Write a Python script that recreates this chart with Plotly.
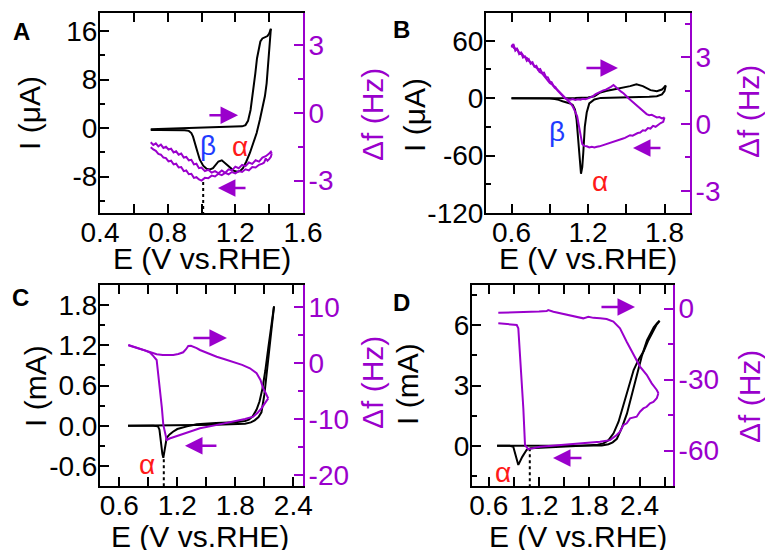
import plotly.graph_objects as go

W, H = 765, 550
BLACK = '#000000'
PURPLE = '#9a00cc'
RED = '#ff1a1a'
BLUE = '#1f3cff'
FONT = 'Liberation Sans, Arial, sans-serif'

# ---------------- Panel A (I in uA, df in Hz) ----------------
a_cv_fwd_E = [0.70, 0.75, 0.80, 0.85, 0.90, 0.95, 1.00, 1.05, 1.10, 1.15, 1.20, 1.24, 1.26, 1.275,
              1.29, 1.305, 1.318, 1.328, 1.338, 1.348, 1.36, 1.375, 1.39, 1.40, 1.41]
a_cv_fwd_I = [-0.2, -0.15, -0.1, -0.05, 0.0, 0.0, 0.05, 0.1, 0.1, 0.15, 0.2, 0.3, 0.5, 1.2,
              3.0, 6.0, 9.0, 11.5, 13.3, 14.3, 14.8, 15.0, 15.2, 15.6, 16.4]
a_cv_rev_E = [1.41, 1.405, 1.395, 1.385, 1.375, 1.363, 1.345, 1.326, 1.305, 1.286, 1.265, 1.245,
              1.227, 1.21, 1.19, 1.17, 1.15, 1.13, 1.12, 1.10, 1.085, 1.068, 1.05, 1.03, 1.01,
              0.99, 0.975, 0.96, 0.95, 0.94, 0.925, 0.90, 0.85, 0.80, 0.75, 0.70]
a_cv_rev_I = [16.4, 14.5, 11.0, 7.4, 5.3, 3.5, 1.4, -0.8, -2.6, -4.1, -5.5, -6.6,
              -7.1, -7.2, -7.0, -6.5, -6.0, -5.5, -5.3, -5.5, -6.1, -6.6, -6.8, -6.7, -6.2,
              -5.2, -3.8, -2.3, -1.4, -0.8, -0.45, -0.35, -0.3, -0.3, -0.3, -0.3]
a_df_fwd_E = [0.70, 0.715, 0.73, 0.745, 0.76, 0.775, 0.79, 0.805, 0.82, 0.835, 0.85, 0.865, 0.88,
              0.895, 0.91, 0.925, 0.94, 0.955, 0.97, 0.985, 1.00, 1.02, 1.04, 1.06, 1.08, 1.10,
              1.12, 1.14, 1.16, 1.18, 1.20, 1.22, 1.24, 1.26, 1.28, 1.30, 1.32, 1.34, 1.36, 1.38,
              1.40, 1.41, 1.415]
a_df_fwd = [-1.30, -1.42, -1.35, -1.48, -1.40, -1.55, -1.50, -1.62, -1.58, -1.75, -1.70, -1.85, -1.80,
            -1.98, -1.95, -2.10, -2.08, -2.28, -2.25, -2.45, -2.42, -2.58, -2.52, -2.65, -2.58, -2.68,
            -2.55, -2.66, -2.50, -2.55, -2.38, -2.45, -2.30, -2.36, -2.20, -2.26, -2.10, -2.16, -1.98,
            -1.92, -1.80, -1.72, -1.80]
a_df_rev_E = [1.415, 1.41, 1.40, 1.39, 1.38, 1.37, 1.36, 1.34, 1.32, 1.30, 1.28, 1.26, 1.24, 1.22,
              1.20, 1.18, 1.16, 1.14, 1.12, 1.10, 1.08, 1.06, 1.04, 1.02, 1.00, 0.985, 0.97, 0.955,
              0.94, 0.925, 0.91, 0.895, 0.88, 0.865, 0.85, 0.835, 0.82, 0.805, 0.79, 0.775, 0.76,
              0.745, 0.73, 0.715, 0.70]
a_df_rev = [-1.80, -1.95, -2.05, -2.12, -2.02, -2.20, -2.25, -2.30, -2.42, -2.40, -2.55, -2.50, -2.62,
            -2.58, -2.68, -2.62, -2.72, -2.66, -2.76, -2.70, -2.82, -2.78, -2.90, -2.88, -3.00, -2.95,
            -2.85, -2.88, -2.70, -2.72, -2.55, -2.58, -2.40, -2.42, -2.25, -2.28, -2.12, -2.15, -2.00,
            -1.98, -1.85, -1.82, -1.68, -1.62, -1.52]
a_dot_E = [1.01, 1.01]
a_dot_I = [-8.9, -14.0]

# ---------------- Panel B (I in uA, df in Hz) ----------------
b_cv_fwd_E = [0.60, 0.70, 0.80, 0.90, 1.00, 1.10, 1.20, 1.25, 1.29, 1.34, 1.40, 1.46, 1.53, 1.58,
              1.63, 1.69, 1.74, 1.78, 1.81]
b_cv_fwd_I = [0, 0, 0, 0, 0, 0.2, 0.8, 2.0, 5.5, 7.5, 9.0, 10.5, 12.6, 14.4,
              12.6, 8.4, 7.3, 9.0, 13.3]
b_cv_rev_E = [1.81, 1.80, 1.78, 1.74, 1.68, 1.60, 1.50, 1.40, 1.30, 1.25, 1.21, 1.19, 1.175, 1.163,
              1.155, 1.145, 1.135, 1.124, 1.11, 1.098, 1.08, 1.06, 1.04, 1.02, 1.00, 0.97, 0.94,
              0.90, 0.80, 0.70, 0.60]
b_cv_rev_I = [13.3, 7.3, 3.9, 2.0, 1.5, 1.3, 1.1, 0.8, 0.3, -1.4, -5.5, -15, -29.6, -57,
              -72, -79, -62, -43, -22, -12, -7, -5.5, -5.0, -4.5, -3.2, -1.8, -0.8,
              -0.3, 0, 0, 0]
b_df_fwd_E = [0.600, 0.615, 0.630, 0.645, 0.660, 0.675, 0.690, 0.705, 0.720, 0.735, 0.750, 0.765,
              0.780, 0.795, 0.810, 0.825, 0.840, 0.855, 0.870, 0.885, 0.900, 0.915, 0.930, 0.945,
              0.960, 0.975, 0.990, 1.005, 1.020, 1.040, 1.060, 1.080, 1.100, 1.120, 1.140, 1.160,
              1.180, 1.200, 1.220, 1.240, 1.260, 1.280, 1.300, 1.320, 1.340, 1.360, 1.380, 1.400,
              1.420, 1.440, 1.460, 1.480, 1.500, 1.520, 1.540, 1.560, 1.580, 1.600, 1.620, 1.640,
              1.660, 1.680, 1.700, 1.720, 1.740, 1.760, 1.780, 1.800]
b_df_fwd = [3.45, 3.60, 3.30, 3.38, 3.15, 3.22, 3.00, 3.05, 2.85, 2.92, 2.72, 2.78,
            2.58, 2.62, 2.45, 2.48, 2.30, 2.32, 2.12, 2.10, 1.92, 1.88, 1.72, 1.66,
            1.52, 1.42, 1.32, 1.22, 1.16, 1.12, 1.10, 1.13, 1.09, 1.12, 1.10, 1.14,
            1.12, 1.16, 1.20, 1.26, 1.35, 1.42, 1.48, 1.52, 1.55, 1.60, 1.68, 1.76,
            1.65, 1.58, 1.46, 1.38, 1.25, 1.15, 1.05, 0.95, 0.85, 0.78, 0.66, 0.55,
            0.45, 0.40, 0.42, 0.36, 0.30, 0.32, 0.26, 0.30]
b_df_rev_E = [1.800, 1.790, 1.770, 1.750, 1.730, 1.710, 1.690, 1.670, 1.650, 1.630, 1.610, 1.590,
              1.570, 1.550, 1.530, 1.510, 1.490, 1.470, 1.450, 1.430, 1.410, 1.390, 1.370, 1.350,
              1.330, 1.310, 1.290, 1.270, 1.250, 1.230, 1.210, 1.190, 1.170, 1.155, 1.145, 1.135,
              1.125, 1.115, 1.100, 1.080, 1.060, 1.040, 1.020, 1.000, 0.980, 0.960, 0.940, 0.920,
              0.900, 0.880, 0.860, 0.840, 0.820, 0.800, 0.780, 0.760, 0.740, 0.720, 0.700, 0.680,
              0.660, 0.640, 0.620, 0.600]
b_df_rev = [0.30, 0.10, 0.05, -0.02, -0.12, -0.08, -0.20, -0.18, -0.30, -0.28, -0.38, -0.40,
            -0.45, -0.52, -0.50, -0.58, -0.62, -0.66, -0.70, -0.72, -0.78, -0.80, -0.85, -0.88,
            -0.92, -0.95, -1.00, -1.02, -1.05, -1.02, -1.05, -1.00, -0.98, -0.90, -0.60, -0.25,
            0.10, 0.35, 0.55, 0.80, 0.95, 1.08, 1.20, 1.30, 1.42, 1.55, 1.62, 1.78,
            1.85, 2.00, 2.10, 2.28, 2.35, 2.52, 2.60, 2.75, 2.82, 2.98, 3.02, 3.18,
            3.22, 3.40, 3.42, 3.58]

# ---------------- Panel C (I in mA, df in Hz) ----------------
c_cv_fwd_E = [0.69, 0.8, 1.0, 1.2, 1.4, 1.6, 1.8, 1.9, 1.96, 2.0, 2.04, 2.07, 2.1, 2.13, 2.16, 2.19, 2.2]
c_cv_fwd_I = [0, 0, 0, 0.01, 0.01, 0.015, 0.02, 0.03, 0.05, 0.08, 0.13, 0.2, 0.46, 0.85, 1.25, 1.65, 1.78]
c_cv_rev_E = [2.2, 2.17, 2.14, 2.11, 2.08, 2.05, 2.02, 1.98, 1.94, 1.9, 1.8, 1.6, 1.4, 1.3, 1.25,
              1.2, 1.155, 1.12, 1.09, 1.075, 1.065, 1.055, 1.045, 1.035, 1.025, 1.015, 1.0, 0.95, 0.69]
c_cv_rev_I = [1.78, 1.5, 1.15, 0.82, 0.55, 0.36, 0.24, 0.14, 0.09, 0.07, 0.05, 0.04, 0.02, -0.01, -0.03,
              -0.05, -0.09, -0.13, -0.18, -0.3, -0.42, -0.48, -0.42, -0.3, -0.15, -0.06, -0.01, 0, 0]
c_df_fwd_E = [0.693, 0.75, 0.81, 0.87, 0.917, 0.986, 1.05, 1.10, 1.158, 1.21, 1.261, 1.29, 1.313,
              1.34, 1.365, 1.40, 1.434, 1.52, 1.607, 1.69, 1.778, 1.87, 1.951, 1.99, 2.02, 2.06,
              2.088, 2.115, 2.14]
c_df_fwd = [3.26, 2.95, 2.6, 2.3, 2.06, 1.59, 1.45, 1.4, 1.47, 1.65, 1.95, 2.5, 3.08,
            3.1, 2.96, 2.7, 2.36, 1.75, 1.16, 0.7, 0.27, -0.3, -0.92, -1.35, -1.81, -3.0,
            -4.5, -5.4, -6.3]
c_df_rev_E = [2.14, 2.10, 2.07, 2.03, 1.985, 1.90, 1.778, 1.60, 1.434, 1.30, 1.158, 1.12, 1.09,
              1.075, 1.055, 1.04, 1.02, 1.00, 0.986, 0.95, 0.917, 0.87, 0.81, 0.75, 0.693]
c_df_rev = [-6.3, -7.4, -8.08, -8.9, -9.58, -10.0, -10.5, -11.1, -11.66, -12.4, -13.2, -13.5, -13.76,
            -12.6, -11.07, -8.0, -5.1, -1.5, 0.57, 1.3, 1.9, 2.25, 2.6, 2.95, 3.2]
c_dot_E = [1.06, 1.06]
c_dot_I = [-0.5, -0.9]

# ---------------- Panel D (I in mA, df in Hz) ----------------
d_cv_fwd_E = [0.70, 0.9, 1.1, 1.3, 1.5, 1.7, 1.85, 1.95, 2.03, 2.08, 2.13, 2.19, 2.25, 2.31, 2.37,
              2.43, 2.49, 2.53, 2.57, 2.61, 2.64]
d_cv_fwd_I = [0, 0, 0, 0, 0, 0, 0, 0.02, 0.08, 0.17, 0.35, 0.9, 1.6, 2.6, 3.6,
              4.5, 5.26, 5.6, 5.9, 6.1, 6.22]
d_cv_rev_E = [2.64, 2.6, 2.55, 2.5, 2.45, 2.39, 2.33, 2.27, 2.21, 2.15, 2.09, 2.03, 1.97, 1.9, 1.7,
              1.5, 1.3, 1.1, 1.053, 1.0, 0.953, 0.92, 0.893, 0.85, 0.80, 0.70]
d_cv_rev_I = [6.22, 6.0, 5.6, 5.2, 4.7, 4.3, 3.77, 2.9, 1.95, 1.2, 0.62, 0.28, 0.12, 0.05, 0.0,
              -0.05, -0.08, -0.12, -0.2, -0.55, -0.95, -0.5, -0.05, 0, 0, 0]
d_df_fwd_E = [0.714, 0.80, 0.893, 1.00, 1.093, 1.20, 1.292, 1.31, 1.372, 1.45, 1.53, 1.63, 1.729,
              1.789, 1.85, 1.93, 2.008, 2.088, 2.167, 2.247, 2.327, 2.406, 2.486, 2.546, 2.606, 2.626]
d_df_fwd = [-1.73, -1.65, -1.73, -1.6, -1.56, -1.2, -1.0, -0.6, -1.3, -1.9, -2.7, -3.4, -4.1,
            -3.4, -3.9, -4.1, -4.4, -5.5, -8.3, -14.0, -19.6, -24.5, -28.0, -31.6, -34.4, -35.8]
d_df_rev_E = [2.626, 2.606, 2.566, 2.526, 2.486, 2.446, 2.406, 2.366, 2.287, 2.247, 2.207, 2.167,
              2.128, 2.048, 1.928, 1.69, 1.45, 1.212, 1.072, 1.033, 1.013, 0.973, 0.953, 0.934,
              0.814, 0.714]
d_df_rev = [-35.8, -37.9, -39.4, -40.0, -41.5, -42.2, -43.6, -45.7, -46.4, -48.5, -49.2, -52.0,
            -53.4, -55.6, -56.3, -57.0, -57.7, -58.4, -59.4, -57.7, -42.2, -21.0, -8.3, -6.9,
            -6.6, -6.2]
d_dot_E = [1.09, 1.09]
d_dot_I = [-0.12, -2.0]

# ---------------- Axes: ranges and ticks ----------------
A_x_range, A_y_range, A_y2_range = [0.4, 1.6], [-14, 19], [-4.44, 4.44]
B_x_range, B_y_range, B_y2_range = [0.4, 2.0], [-120, 89], [-4, 5]
C_x_range, C_y_range, C_y2_range = [0.4, 2.5], [-0.9, 2.1], [-22, 14]
D_x_range, D_y_range, D_y2_range = [0.4, 2.8], [-2, 8], [-75, 10]

A_x_ticks, A_x_labels = [0.4, 0.8, 1.2, 1.6], ['0.4', '0.8', '1.2', '1.6']
A_y_ticks, A_y_labels = [-8, 0, 8, 16], ['-8', '0', '8', '16']
A_y2_ticks, A_y2_labels = [-3, 0, 3], ['-3', '0', '3']
B_x_ticks, B_x_labels = [0.6, 1.2, 1.8], ['0.6', '1.2', '1.8']
B_y_ticks, B_y_labels = [-120, -60, 0, 60], ['-120', '-60', '0', '60']
B_y2_ticks, B_y2_labels = [-3, 0, 3], ['-3', '0', '3']
C_x_ticks, C_x_labels = [0.6, 1.2, 1.8, 2.4], ['0.6', '1.2', '1.8', '2.4']
C_y_ticks, C_y_labels = [-0.6, 0.0, 0.6, 1.2, 1.8], ['-0.6', '0.0', '0.6', '1.2', '1.8']
C_y2_ticks, C_y2_labels = [-20, -10, 0, 10], ['-20', '-10', '0', '10']
D_x_ticks, D_x_labels = [0.6, 1.2, 1.8, 2.4], ['0.6', '1.2', '1.8', '2.4']
D_y_ticks, D_y_labels = [0, 3, 6], ['0', '3', '6']
D_y2_ticks, D_y2_labels = [-60, -30, 0], ['-60', '-30', '0']

# minor tick steps (start, step)
A_minor = dict(x=(0.4, 0.2), y=(0, 4), y2=(0, 1.5))
B_minor = dict(x=(0.6, 0.3), y=(0, 30), y2=(0, 1.5))
C_minor = dict(x=(0.6, 0.3), y=(0, 0.3), y2=(0, 5))
D_minor = dict(x=(0.6, 0.3), y=(0, 1.5), y2=(0, 15))

panel_letters = ['A', 'B', 'C', 'D']
x_title = 'E (V vs.RHE)'
y_titles = ['I (\u03bcA)', 'I (\u03bcA)', 'I (mA)', 'I (mA)']
y2_title = '\u0394f (Hz)'

# ---------------- Layout geometry (pixels) ----------------
frames = {  # left, right, top, bottom
    'A': (100, 303, 13, 213),
    'B': (486, 690, 13, 213),
    'C': (100, 303, 285, 486),
    'D': (472, 673, 285, 486),
}

fig = go.Figure()
TICKFONT = 28
TITLEFONT = 30


def xd(l, r):
    return [l / W, r / W]


def yd(t, b):
    return [1 - b / H, 1 - t / H]


def add_cv(xa, ya, E, I):
    fig.add_trace(go.Scatter(x=E, y=I, xaxis=xa, yaxis=ya, mode='lines',
                             line=dict(color=BLACK, width=2), showlegend=False, hoverinfo='skip'))


def add_df(xa, ya, E, D):
    fig.add_trace(go.Scatter(x=E, y=D, xaxis=xa, yaxis=ya, mode='lines',
                             line=dict(color=PURPLE, width=2), showlegend=False, hoverinfo='skip'))


def add_dot(xa, ya, E, I):
    fig.add_trace(go.Scatter(x=E, y=I, xaxis=xa, yaxis=ya, mode='lines',
                             line=dict(color=BLACK, width=2, dash='dot'), showlegend=False,
                             hoverinfo='skip'))


# Panel A traces
add_df('x', 'y2', a_df_fwd_E, a_df_fwd)
add_df('x', 'y2', a_df_rev_E, a_df_rev)
add_cv('x', 'y', a_cv_fwd_E, a_cv_fwd_I)
add_cv('x', 'y', a_cv_rev_E, a_cv_rev_I)
add_dot('x', 'y', a_dot_E, a_dot_I)
# Panel B
add_df('x2', 'y4', b_df_fwd_E, b_df_fwd)
add_df('x2', 'y4', b_df_rev_E, b_df_rev)
add_cv('x2', 'y3', b_cv_fwd_E, b_cv_fwd_I)
add_cv('x2', 'y3', b_cv_rev_E, b_cv_rev_I)
# Panel C
add_df('x3', 'y6', c_df_fwd_E, c_df_fwd)
add_df('x3', 'y6', c_df_rev_E, c_df_rev)
add_cv('x3', 'y5', c_cv_fwd_E, c_cv_fwd_I)
add_cv('x3', 'y5', c_cv_rev_E, c_cv_rev_I)
add_dot('x3', 'y5', c_dot_E, c_dot_I)
# Panel D
add_df('x4', 'y8', d_df_fwd_E, d_df_fwd)
add_df('x4', 'y8', d_df_rev_E, d_df_rev)
add_cv('x4', 'y7', d_cv_fwd_E, d_cv_fwd_I)
add_cv('x4', 'y7', d_cv_rev_E, d_cv_rev_I)
add_dot('x4', 'y7', d_dot_E, d_dot_I)


def axis(rng, ticks, labels, minor, color, standoff, **kw):
    d = dict(range=rng, tickmode='array', tickvals=ticks, ticktext=labels,
             ticks='inside', ticklen=9, tickwidth=2, tickcolor=color,
             showline=True, linecolor=color, linewidth=2, showgrid=False, zeroline=False,
             tickfont=dict(family=FONT, size=TICKFONT, color=color),
             ticklabelstandoff=standoff,
             minor=dict(tick0=minor[0], dtick=minor[1], ticks='inside', ticklen=5,
                        tickwidth=2, tickcolor=color, showgrid=False),
             fixedrange=True, automargin=False)
    d.update(kw)
    return d


specs = [
    ('A', 1, A_x_range, A_x_ticks, A_x_labels, A_y_range, A_y_ticks, A_y_labels,
     A_y2_range, A_y2_ticks, A_y2_labels, A_minor),
    ('B', 2, B_x_range, B_x_ticks, B_x_labels, B_y_range, B_y_ticks, B_y_labels,
     B_y2_range, B_y2_ticks, B_y2_labels, B_minor),
    ('C', 3, C_x_range, C_x_ticks, C_x_labels, C_y_range, C_y_ticks, C_y_labels,
     C_y2_range, C_y2_ticks, C_y2_labels, C_minor),
    ('D', 4, D_x_range, D_x_ticks, D_x_labels, D_y_range, D_y_ticks, D_y_labels,
     D_y2_range, D_y2_ticks, D_y2_labels, D_minor),
]

layout = dict(width=W, height=H, margin=dict(l=0, r=0, t=0, b=0, autoexpand=False),
              paper_bgcolor='white', plot_bgcolor='white', showlegend=False,
              font=dict(family=FONT, color=BLACK))
for (name, k, xr, xt, xl, yr, yt, yl, y2r, y2t, y2l, mn) in specs:
    l, r, t, b = frames[name]
    xid = 'x' if k == 1 else f'x{k}'
    yl_id = 'y' if k == 1 else f'y{2 * k - 1}'
    layout['xaxis' if k == 1 else f'xaxis{k}'] = axis(xr, xt, xl, mn['x'], BLACK, -7,
                                                       domain=xd(l, r), anchor=yl_id,
                                                       mirror='allticks')
    layout['yaxis' if k == 1 else f'yaxis{2 * k - 1}'] = axis(yr, yt, yl, mn['y'], BLACK, -5,
                                                               domain=yd(t, b), anchor=xid)
    layout[f'yaxis{2 * k}'] = axis(y2r, y2t, y2l, mn['y2'], PURPLE, -2, domain=yd(t, b),
                                   anchor=xid, overlaying=yl_id, side='right')

fig.update_layout(**layout)

ann = []


def text_px(txt, cx, cy, size, color=BLACK, angle=0, bold=False):
    ann.append(dict(text=f'<b>{txt}</b>' if bold else txt, x=cx / W, y=1 - cy / H,
                    xref='paper', yref='paper', showarrow=False, xanchor='center',
                    yanchor='middle', textangle=angle, borderpad=0,
                    font=dict(family=FONT, size=size, color=color)))


# panel letters
for letter, (cx, cy) in zip(panel_letters, [(21, 31), (401, 29), (20, 297), (401, 302)]):
    text_px(letter, cx, cy, 24, bold=True)
# axis titles
for (cx, cy) in [(202, 258), (588, 258), (200, 536), (578, 536)]:
    text_px(x_title, cx, cy, TITLEFONT)
for ttl, (cx, cy) in zip(y_titles, [(29, 113), (414, 115), (35, 386), (407, 384)]):
    text_px(ttl, cx, cy, TITLEFONT, angle=-90)
for (cx, cy) in [(372, 115), (749, 112), (372, 383), (749, 397)]:
    text_px(y2_title, cx, cy, TITLEFONT, color=PURPLE, angle=-90)


def greek(txt, xa, ya, E, I, color):
    ann.append(dict(text=txt, x=E, y=I, xref=xa, yref=ya, showarrow=False,
                    xanchor='center', yanchor='middle',
                    font=dict(family=FONT, size=28, color=color)))


greek('\u03b2', 'x', 'y', 1.04, -2.8, BLUE)
greek('\u03b1', 'x', 'y', 1.227, -3.1, RED)
greek('\u03b2', 'x2', 'y3', 0.957, -35, BLUE)
greek('\u03b1', 'x2', 'y3', 1.294, -87, RED)
greek('\u03b1', 'x3', 'y5', 0.886, -0.58, RED)
greek('\u03b1', 'x4', 'y7', 0.77, -1.35, RED)


def arrow(xa, ya, E0, E1, val):
    ann.append(dict(text='', x=E1, y=val, ax=E0, ay=val, xref=xa, yref=ya,
                    axref=xa, ayref=ya, showarrow=True, arrowhead=2, arrowsize=1.4,
                    arrowwidth=2.5, arrowcolor=PURPLE))


arrow('x', 'y2', 1.038, 1.216, -0.1)
arrow('x', 'y2', 1.269, 1.097, -3.33)
arrow('x2', 'y4', 1.176, 1.435, 2.52)
arrow('x2', 'y4', 1.78, 1.553, -1.08)
arrow('x3', 'y6', 1.351, 1.713, 4.5)
arrow('x3', 'y6', 1.62, 1.279, -14.8)
arrow('x4', 'y8', 1.928, 2.346, 0.68)
arrow('x4', 'y8', 1.725, 1.367, -63.2)

fig.update_layout(annotations=ann)
fig.write_html('out.html', config={'displayModeBar': False},
               post_script="document.body.style.margin='0';"
                           "document.body.style.overflow='hidden';")
